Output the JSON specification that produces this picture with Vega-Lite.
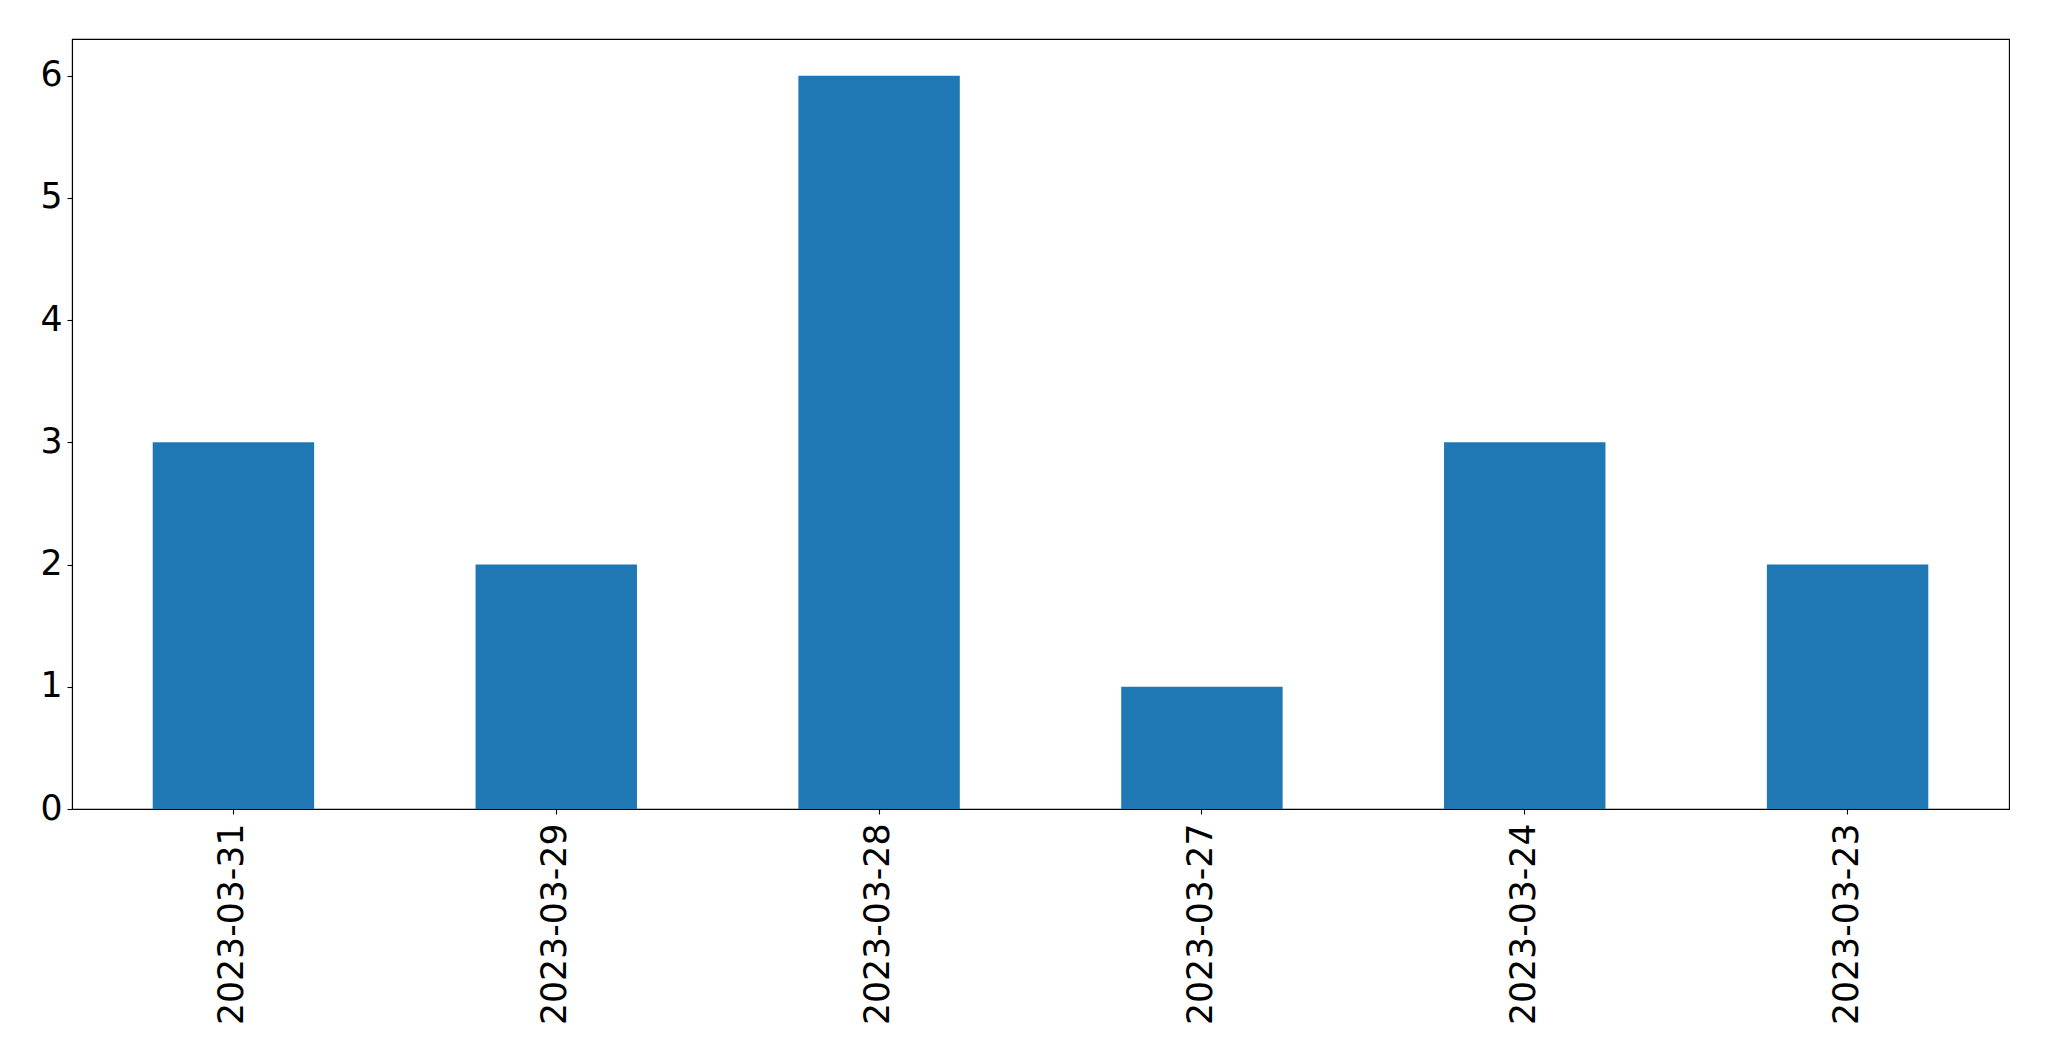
{
  "$schema": "https://vega.github.io/schema/vega-lite/v6.json",
  "width": 1937,
  "height": 770,
  "autosize": {"type": "none"},
  "padding": {"left": 72, "top": 39, "right": 40, "bottom": 252},
  "background": "white",
  "config": {
    "font": "DejaVu Sans",
    "view": {"stroke": "black", "strokeWidth": 1.1},
    "axis": {
      "grid": false,
      "domainColor": "black",
      "domainWidth": 1.1,
      "tickColor": "black",
      "tickWidth": 1.1,
      "tickSize": 5,
      "labelColor": "black",
      "labelFont": "DejaVu Sans",
      "labelFontSize": 34.7,
      "labelLimit": 0,
      "title": null
    }
  },
  "data": {
    "values": [
      {"date": "2023-03-31", "count": 3},
      {"date": "2023-03-29", "count": 2},
      {"date": "2023-03-28", "count": 6},
      {"date": "2023-03-27", "count": 1},
      {"date": "2023-03-24", "count": 3},
      {"date": "2023-03-23", "count": 2}
    ]
  },
  "mark": {"type": "bar", "color": "#1f77b4"},
  "encoding": {
    "x": {
      "field": "date",
      "type": "nominal",
      "sort": null,
      "scale": {"paddingInner": 0.5, "paddingOuter": 0.25},
      "axis": {"labelAngle": -90, "labelPadding": 9, "labelAlign": "right", "labelBaseline": "middle", "labelLimit": 0}
    },
    "y": {
      "field": "count",
      "type": "quantitative",
      "scale": {"domain": [0, 6.3], "nice": false, "zero": true},
      "axis": {"values": [0, 1, 2, 3, 4, 5, 6], "labelPadding": 5, "format": "d"}
    }
  }
}
